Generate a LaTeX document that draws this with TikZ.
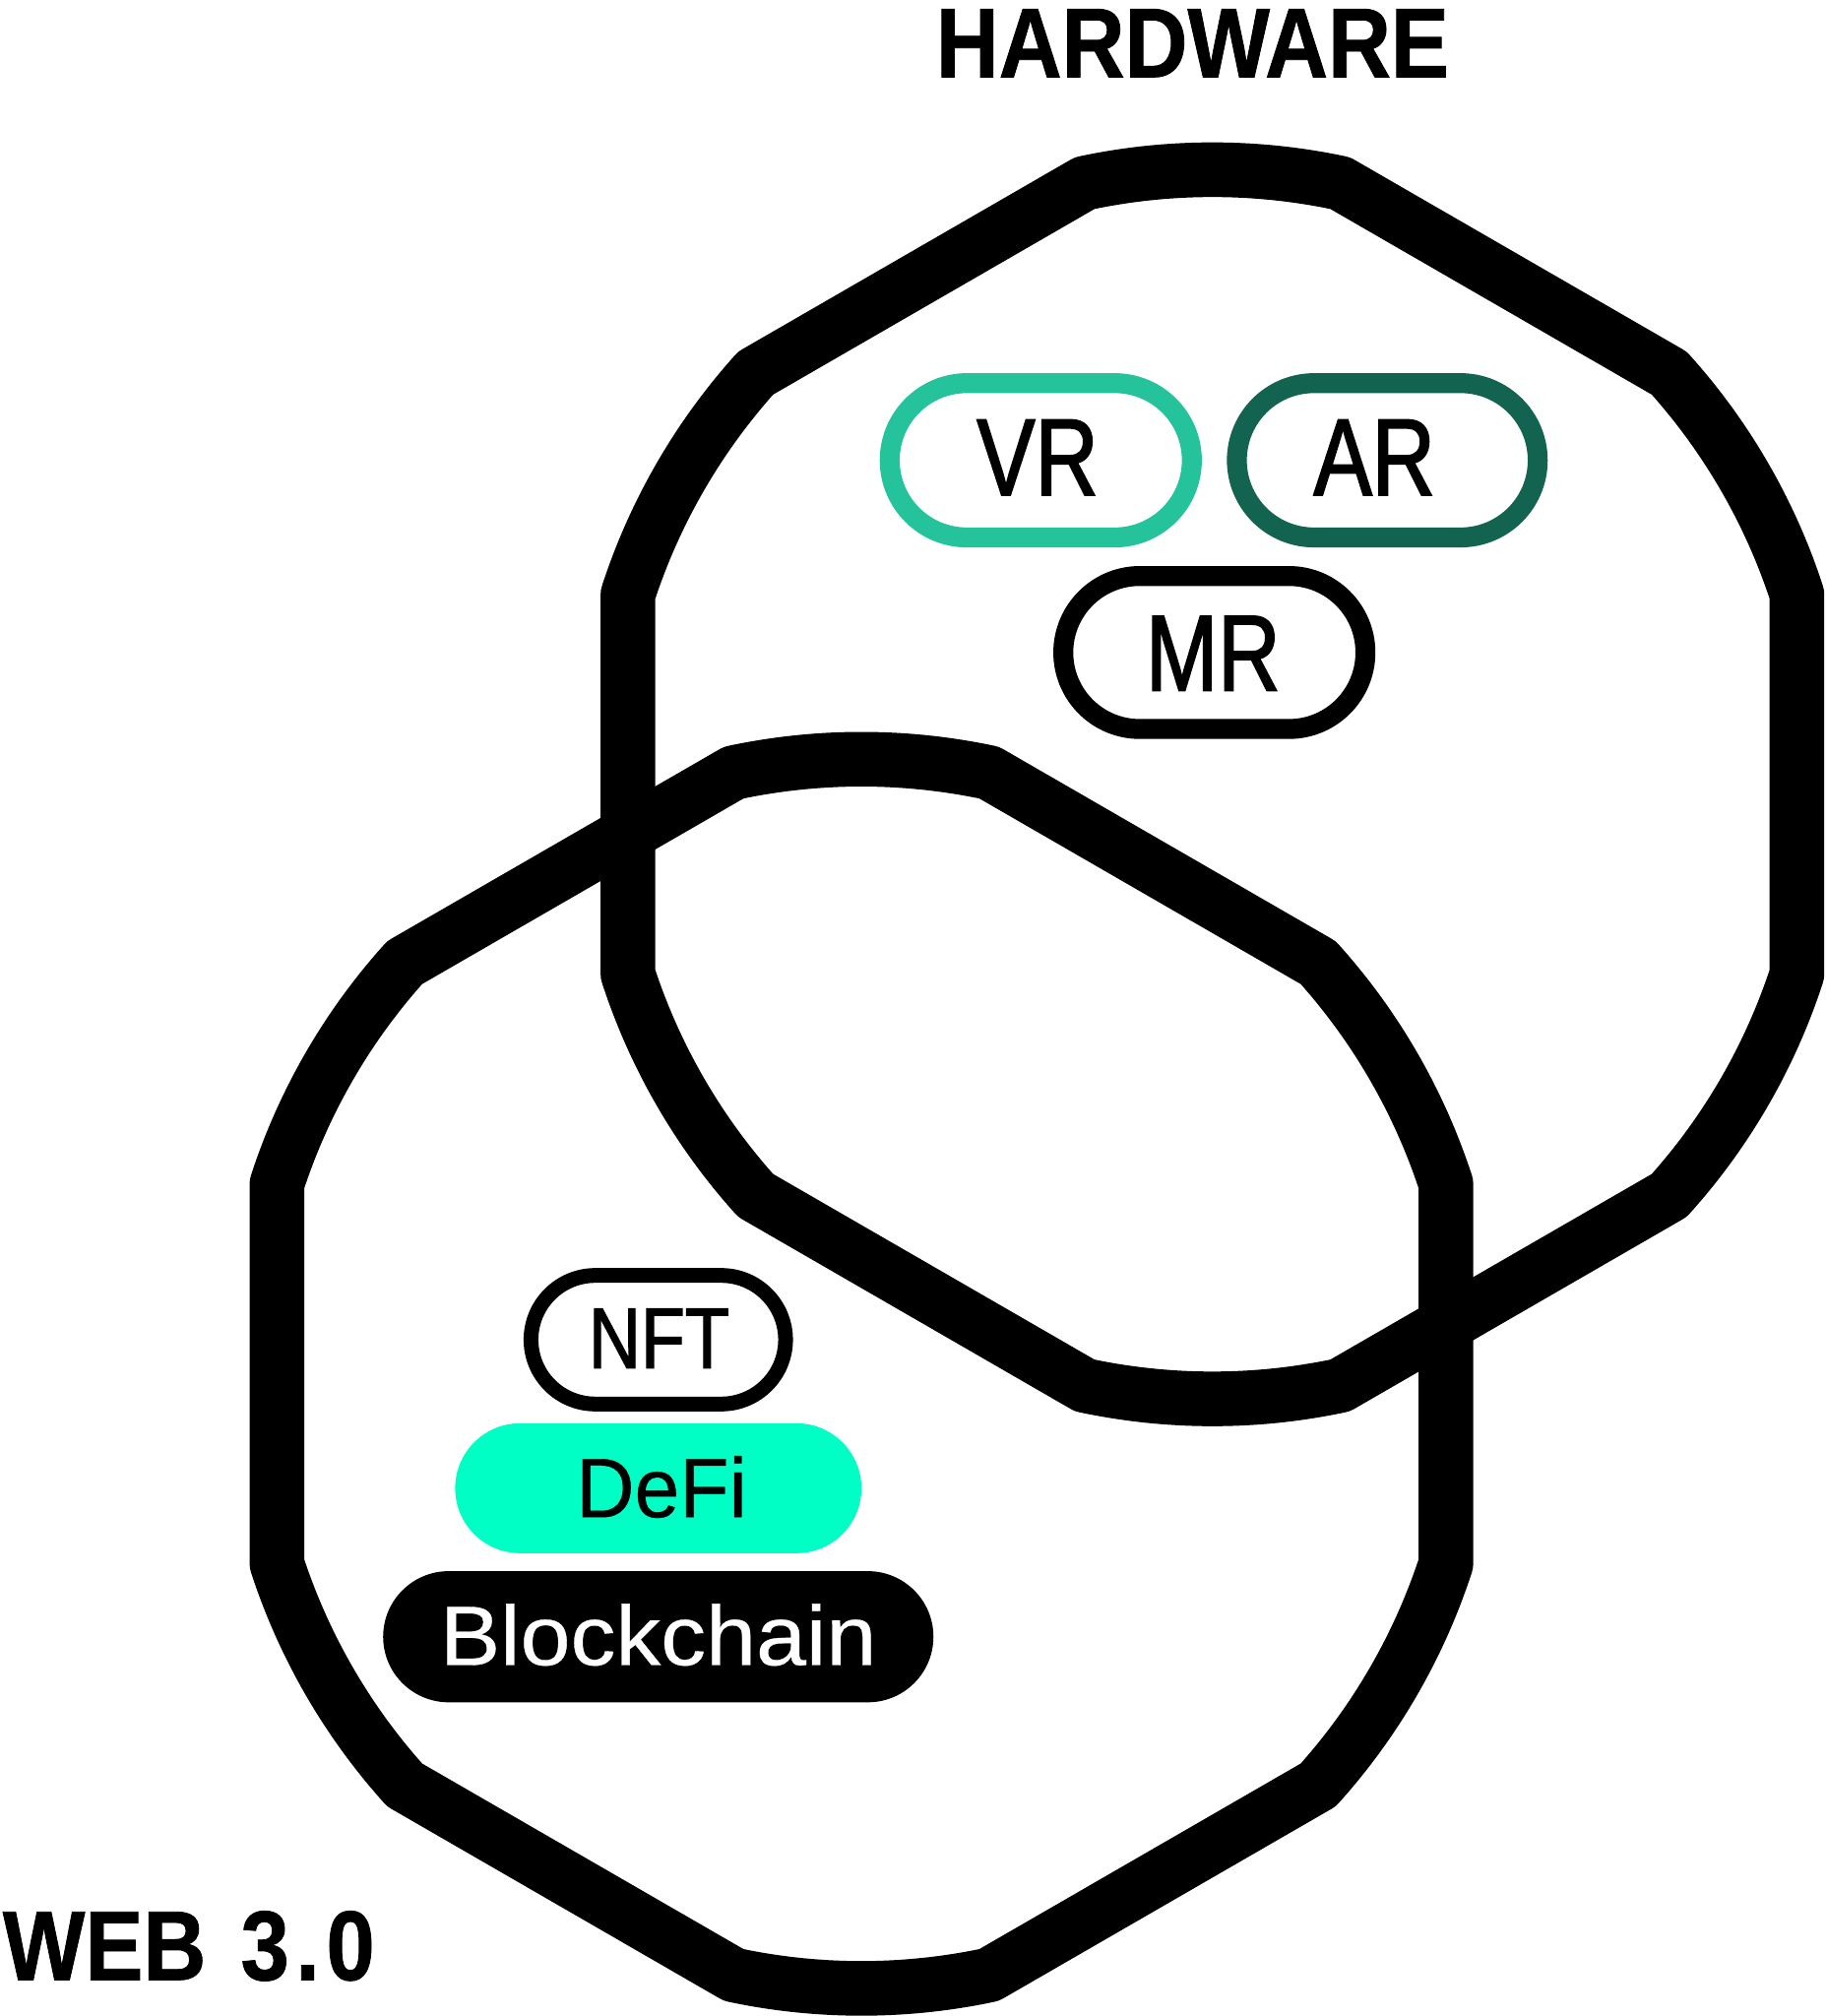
\documentclass[tikz,border=0pt]{standalone}
\usepackage{fontspec}
\setmainfont{Liberation Sans}
\newfontfamily\titlefont[FakeStretch=0.88,FakeBold=0.8]{Liberation Sans}
\newfontfamily\condfont[FakeStretch=0.8,FakeBold=1.6]{Liberation Sans}
\newfontfamily\nftfont[FakeStretch=0.84,FakeBold=1.4]{Liberation Sans}
\newfontfamily\wideafont[FakeStretch=1.07,FakeBold=0.4]{Liberation Sans}
\newfontfamily\defifont[FakeStretch=0.96,FakeBold=0.4]{Liberation Sans}
\usetikzlibrary{calc,shapes.misc}
\definecolor{vrteal}{HTML}{24C39B}
\definecolor{ardark}{HTML}{126350}
\definecolor{defimint}{HTML}{00FFC5}
\newcommand\ringdraw[1]{%
  \draw[ring] ($(#1)+(102:478)$) arc[start angle=102,end angle=78,radius=478]
    -- ($(#1)+(42:478)$) arc[start angle=42,end angle=18,radius=478]
    -- ($(#1)+(-18:478)$) arc[start angle=-18,end angle=-42,radius=478]
    -- ($(#1)+(-78:478)$) arc[start angle=-78,end angle=-102,radius=478]
    -- ($(#1)+(-138:478)$) arc[start angle=-138,end angle=-162,radius=478]
    -- ($(#1)+(162:478)$) arc[start angle=162,end angle=138,radius=478]
    -- cycle;}
\begin{document}
\begin{tikzpicture}[x=1pt,y=-1pt,
  ring/.style={draw=black,line width=42.5pt,line join=round},
  pill/.style={rounded rectangle,inner sep=0pt,outer sep=0pt},
  thinpill/.style={pill,draw,line width=15.5pt},
  title/.style={anchor=base,inner sep=0pt,font=\titlefont\bfseries\fontsize{77}{77}\selectfont},
  lbl/.style={anchor=base,inner sep=0pt,font=\condfont\fontsize{85}{85}\selectfont}]
\useasboundingbox (0,0) rectangle (1420,1568);
\fill[white] (0,0) rectangle (1420,1568);
\coordinate (hw) at (943,610);
\coordinate (wb) at (670,1068.5);
\ringdraw{hw}
\ringdraw{wb}
% titles
\node[title] (hardware) at (927.5,60) {HARDWARE};
\node[title,anchor=base west] (web) at (2,1540) {WEB\hspace{27pt}3\hspace{5pt}.\hspace{5pt}0};
% upper pills
\node[thinpill,draw=vrteal,minimum width=235pt,minimum height=120pt] (vr) at (809.5,358) {};
\node[thinpill,draw=ardark,minimum width=234pt,minimum height=120pt] (ar) at (1079,358) {};
\node[thinpill,draw=black,minimum width=235pt,minimum height=119pt] (mr) at (944.5,507.5) {};
\node[lbl] (vrt) at (807,385) {VR};
\node[lbl] (art) at (1069,385) {AR};
\node[lbl,font=\condfont\fontsize{84}{84}\selectfont] (mrt) at (943.5,537) {MR};
% lower pills
\node[pill,draw=black,line width=11.5pt,minimum width=198pt,minimum height=100pt] (nft) at (512,1042) {};
\node[pill,fill=defimint,minimum width=316pt,minimum height=101pt] (defi) at (512,1157.5) {};
\node[pill,fill=black,minimum width=428pt,minimum height=102pt] (bc) at (512,1273) {};
\node[lbl,font=\nftfont\fontsize{67}{67}\selectfont] (nftt) at (512.5,1064) {NFT};
\node[lbl,font=\defifont\fontsize{65.6}{65.6}\selectfont] (defit) at (514.5,1180) {DeFi};
\node[lbl,text=white,font=\wideafont\fontsize{65.6}{65.6}\selectfont] (bct) at (512,1295) {Blockchain};
\end{tikzpicture}
\end{document}
